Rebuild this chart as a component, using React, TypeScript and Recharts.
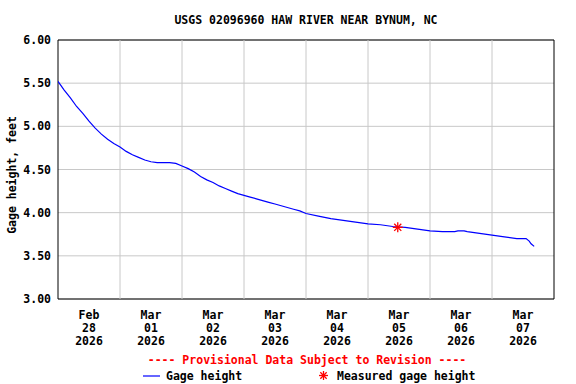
import React from 'react';
import { ComposedChart, Line, Scatter, XAxis, YAxis, CartesianGrid, ReferenceLine, ReferenceArea } from 'recharts';

const days = [0, 0.1, 0.2, 0.3, 0.4, 0.5, 0.6, 0.7, 0.8, 0.9, 1.0, 1.1, 1.2, 1.3, 1.4, 1.5, 1.6, 1.7, 1.8, 1.9, 2.0, 2.1, 2.2, 2.3, 2.4, 2.5, 2.6, 2.7, 2.8, 2.9, 3.0, 3.1, 3.2, 3.3, 3.4, 3.5, 3.6, 3.7, 3.8, 3.9, 4.0, 4.2, 4.4, 4.6, 4.8, 5.0, 5.2, 5.4, 5.6, 5.8, 6.0, 6.2, 6.4, 6.45, 6.55, 6.6, 6.8, 7.0, 7.2, 7.4, 7.55, 7.6, 7.63, 7.68];
const gageHeight = [5.52, 5.42, 5.33, 5.23, 5.15, 5.06, 4.98, 4.91, 4.85, 4.80, 4.76, 4.71, 4.67, 4.64, 4.61, 4.59, 4.58, 4.58, 4.58, 4.57, 4.54, 4.51, 4.47, 4.42, 4.38, 4.35, 4.31, 4.28, 4.25, 4.22, 4.20, 4.18, 4.16, 4.14, 4.12, 4.10, 4.08, 4.06, 4.04, 4.02, 3.99, 3.96, 3.93, 3.91, 3.89, 3.87, 3.86, 3.84, 3.83, 3.81, 3.79, 3.78, 3.78, 3.79, 3.79, 3.78, 3.76, 3.74, 3.72, 3.70, 3.70, 3.67, 3.64, 3.61];

const measuredDays = [5.48];
const measuredHeights = [3.83];

const tickDays = [0.5, 1.5, 2.5, 3.5, 4.5, 5.5, 6.5, 7.5];
const tickMonths = ['Feb', 'Mar', 'Mar', 'Mar', 'Mar', 'Mar', 'Mar', 'Mar'];
const tickDates = ['28', '01', '02', '03', '04', '05', '06', '07'];
const tickYears = ['2026', '2026', '2026', '2026', '2026', '2026', '2026', '2026'];
const gridDays = [1, 2, 3, 4, 5, 6, 7];
const yTicks = [3.0, 3.5, 4.0, 4.5, 5.0, 5.5, 6.0];

const FONT = '"DejaVu Sans Mono", monospace';
const FS = 11.5;

const data = days.map((d, i) => ({ day: d, gage: gageHeight[i] }));
const measured = measuredDays.map((d, i) => ({ day: d, measured: measuredHeights[i] }));

const Asterisk = ({ cx, cy, r = 5 }: any) => {
  const k = r * 0.7071;
  return (
    <g stroke="#ff0000" strokeWidth={1.3}>
      <line x1={cx - r} y1={cy} x2={cx + r} y2={cy} />
      <line x1={cx} y1={cy - r} x2={cx} y2={cy + r} />
      <line x1={cx - k} y1={cy - k} x2={cx + k} y2={cy + k} />
      <line x1={cx - k} y1={cy + k} x2={cx + k} y2={cy - k} />
    </g>
  );
};

const XTick = ({ x, y, payload }: any) => {
  const i = tickDays.indexOf(payload.value);
  if (i < 0) return null;
  return (
    <text x={x} textAnchor="middle" fontFamily={FONT} fontWeight="bold" fontSize={FS} fill="#000">
      <tspan x={x} y={y + 12}>{tickMonths[i]}</tspan>
      <tspan x={x} y={y + 25}>{tickDates[i]}</tspan>
      <tspan x={x} y={y + 38}>{tickYears[i]}</tspan>
    </text>
  );
};

const YTick = ({ x, y, payload }: any) => (
  <text x={x + 1} y={y + 4} textAnchor="end" fontFamily={FONT} fontWeight="bold" fontSize={FS} fill="#000">
    {Number(payload.value).toFixed(2)}
  </text>
);

export default function App() {
  return (
    <div style={{ position: 'absolute', left: 0, top: 0, width: 576, height: 384, background: '#fff' }}>
      <ComposedChart width={576} height={384} data={data} margin={{ top: 40, right: 22, bottom: 25, left: 8 }}>
        <CartesianGrid vertical={false} stroke="#c8c8c8" strokeWidth={1} />
        {gridDays.map((d) => (
          <ReferenceLine key={d} x={d} stroke="#c8c8c8" strokeWidth={1} />
        ))}
        <XAxis
          type="number"
          dataKey="day"
          domain={[0, 8]}
          ticks={tickDays}
          interval={0}
          tickLine={false}
          axisLine={false}
          height={60}
          tick={<XTick />}
          allowDataOverflow
        />
        <YAxis
          type="number"
          domain={[3, 6]}
          ticks={yTicks}
          interval={0}
          tickLine={false}
          axisLine={false}
          width={50}
          tick={<YTick />}
          allowDataOverflow
        />
        <Line type="linear" dataKey="gage" stroke="#0000ff" strokeWidth={1.2} dot={false} isAnimationActive={false} />
        <Scatter data={measured} dataKey="measured" shape={(p: any) => <Asterisk cx={p.cx} cy={p.cy} r={5} />} isAnimationActive={false} />
        <ReferenceArea x1={0} x2={8} y1={3} y2={6} fill="none" stroke="#000" strokeWidth={1} ifOverflow="visible" />
      </ComposedChart>
      <svg width={576} height={384} style={{ position: 'absolute', left: 0, top: 0, pointerEvents: 'none' }}>
        <text x={306} y={24} textAnchor="middle" fontFamily={FONT} fontWeight="bold" fontSize={FS} fill="#000">
          USGS 02096960 HAW RIVER NEAR BYNUM, NC
        </text>
        <text x={12} y={175} textAnchor="middle" dominantBaseline="central" transform="rotate(-90 12 175)" fontFamily={FONT} fontWeight="bold" fontSize={FS} fill="#000">
          Gage height, feet
        </text>
        <text x={307} y={364} textAnchor="middle" fontFamily={FONT} fontWeight="bold" fontSize={FS} fill="#ff0000">
          ---- Provisional Data Subject to Revision ----
        </text>
        <line x1={143} y1={376} x2={160} y2={376} stroke="#0000ff" strokeWidth={1.2} />
        <text x={166} y={380} fontFamily={FONT} fontWeight="bold" fontSize={FS} fill="#000">Gage height</text>
        <Asterisk cx={323.5} cy={375.5} r={4.5} />
        <text x={337} y={380} fontFamily={FONT} fontWeight="bold" fontSize={FS} fill="#000">Measured gage height</text>
      </svg>
    </div>
  );
}
